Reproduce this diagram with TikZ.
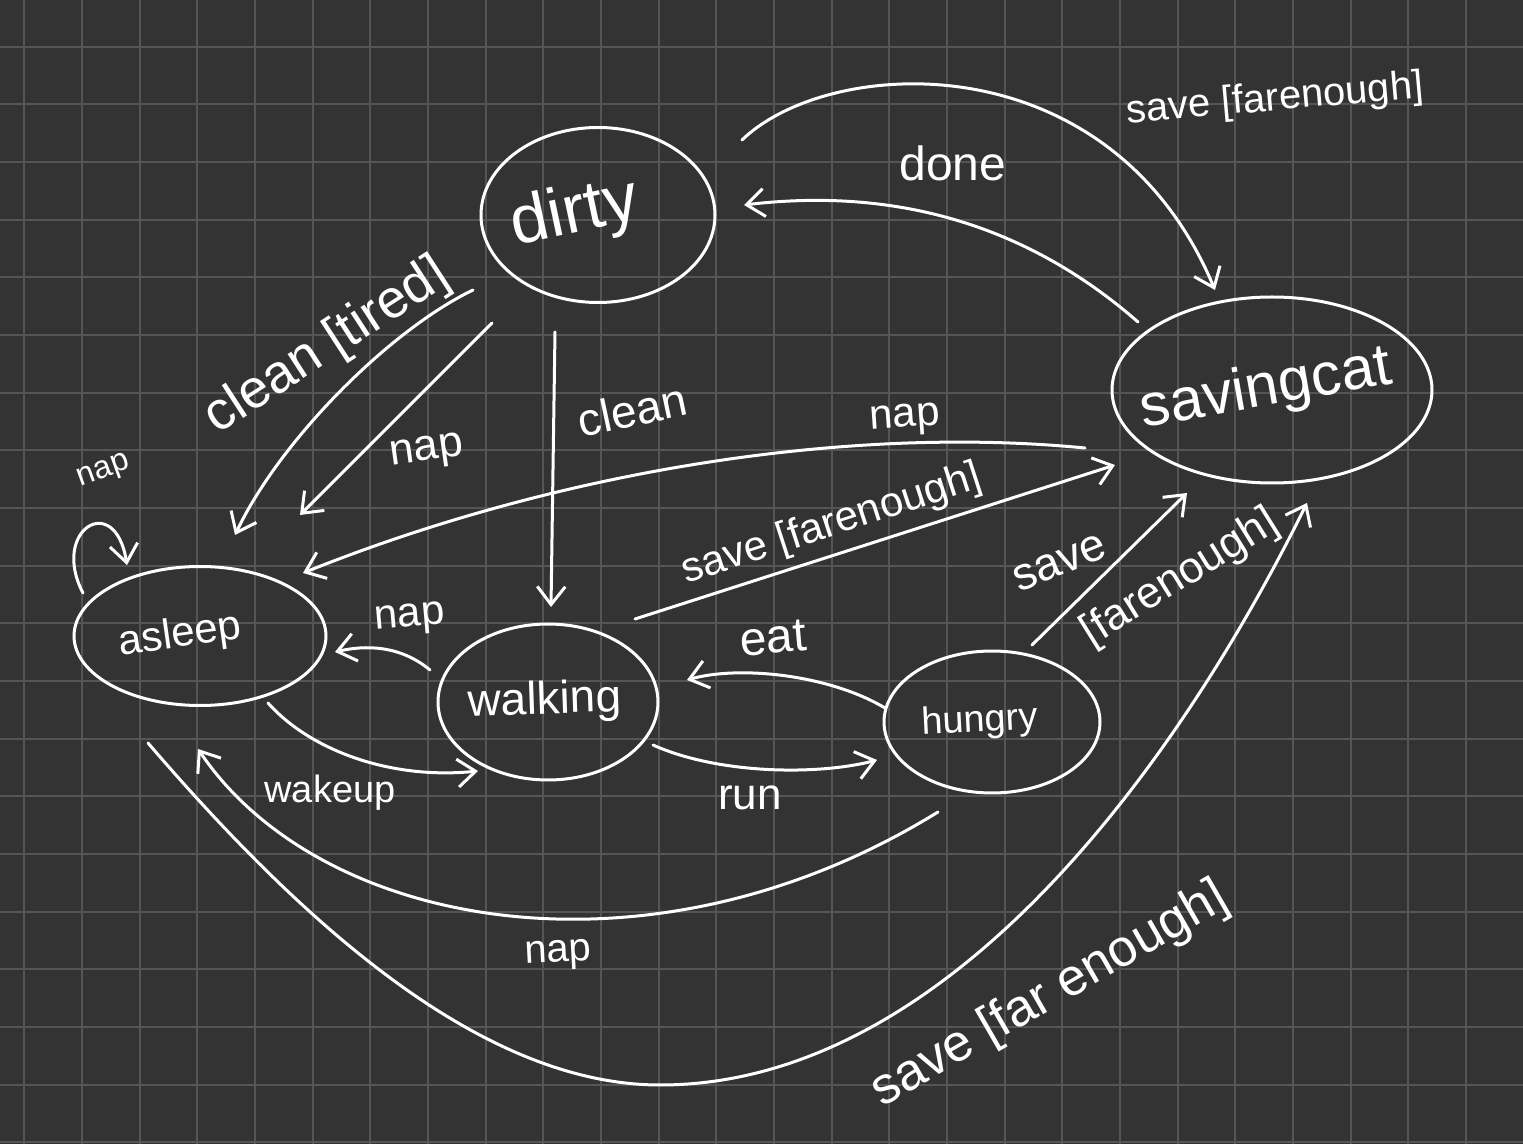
\documentclass[tikz,border=0pt]{standalone}
\usepackage{fontspec}
\setmainfont{Liberation Sans}
\usetikzlibrary{shapes.geometric,arrows.meta,calc}
\definecolor{bg}{HTML}{333333}
\definecolor{gridc}{HTML}{555555}
\begin{document}
\begin{tikzpicture}[x=0.5pt,y=-0.5pt,
  state/.style={draw=white, line width=1.5pt, ellipse, inner sep=0pt, outer sep=0pt, text=white},
  edge/.style={draw=white, line width=1.5pt, line cap=round, line join=round,
    -{Straight Barb[length=9pt,width=14pt]}},
  lbl/.style={text=white, inner sep=0pt, font=\fontsize{#1}{#1}\selectfont},
  gridline/.style={draw=gridc, line width=1pt}
]
\useasboundingbox (0,0) rectangle (1523,1144);
\fill[bg] (0,0) rectangle (1523,1144);
\foreach \i in {0,...,26} {\draw[gridline] ({24.3+57.67*\i},0) -- ({24.3+57.67*\i},1144);}
\foreach \j in {0,...,19} {\draw[gridline] (0,{46.7+57.67*\j}) -- (1523,{46.7+57.67*\j});}

% states
\node[state, minimum width=117pt, minimum height=87.5pt] (dirty) at (598,215)
  {\makebox[0pt]{\hspace*{-23pt}\rotatebox{12}{\fontsize{34}{34}\selectfont dirty}}};
\node[state, minimum width=160pt, minimum height=93pt] (savingcat) at (1272,390)
  {\makebox[0pt]{\hspace*{-6pt}\rotatebox{10}{\fontsize{30}{30}\selectfont savingcat}}};
\node[state, minimum width=126pt, minimum height=69.5pt] (asleep) at (200,636)
  {\makebox[0pt]{\hspace*{-20pt}\rotatebox{8}{\fontsize{21}{21}\selectfont asleep}}};
\node[state, minimum width=110pt, minimum height=78pt] (walking) at (548,702)
  {\makebox[0pt]{\hspace*{-3pt}\rotatebox{2}{\fontsize{23}{23}\selectfont walking}}};
\node[state, minimum width=108pt, minimum height=71pt] (hungry) at (992,722)
  {\makebox[0pt]{\hspace*{-12pt}\rotatebox{3}{\fontsize{19}{19}\selectfont hungry}}};

% transitions
\draw[edge] ($(savingcat)+(-134,-68)$) .. controls (1010,210) and (870,190) .. ($(dirty)+(146,-10)$);
\draw[edge] ($(dirty)+(144,-75)$) .. controls (830,55) and (1110,40) .. ($(savingcat)+(-57,-100)$);
\draw[edge] ($(dirty)+(-125,75)$) .. controls (390,330) and (280,440) .. ($(asleep)+(35,-101)$);
\draw[edge] ($(dirty)+(-106,108)$) -- ($(asleep)+(100,-121)$);
\draw[edge] ($(dirty)+(-43,117)$) -- ($(walking)+(3,-95)$);
\draw[edge] ($(savingcat)+(-187,58)$) .. controls (850,425) and (560,470) .. ($(asleep)+(103,-63)$);
\draw[edge] ($(walking)+(87,-83)$) -- ($(savingcat)+(-157,75)$);
\draw[edge] ($(walking)+(-118,-32)$) .. controls (400,645) and (365,645) .. ($(asleep)+(135,16)$);
\draw[edge] ($(asleep)+(68,67)$) .. controls (310,750) and (390,780) .. ($(walking)+(-70,69)$);
\draw[edge] ($(walking)+(105,43)$) .. controls (720,775) and (820,775) .. ($(hungry)+(-115,38)$);
\draw[edge] ($(hungry)+(-107,-14)$) .. controls (830,675) and (740,665) .. ($(walking)+(139,-22)$);
\draw[edge] ($(hungry)+(40,-77)$) -- ($(savingcat)+(-85,103)$);
\draw[edge] ($(hungry)+(-54,90)$) .. controls (650,990) and (320,930) .. ($(asleep)+(-2,113)$);
\coordinate (farbottom) at (660,1085);
\draw[edge] ($(asleep)+(-52,107)$) .. controls (300,920) and (480,1085) .. (farbottom)
  .. controls (950,1085) and (1180,760) .. ($(savingcat)+(35,113)$);
\draw[edge] ($(asleep)+(-117,-43)$) .. controls (50,530) and (115,490) .. ($(asleep)+(-73,-71)$);

% labels
\node[lbl=24] (ldone) at (953,163) {done};
\node[lbl=20, rotate=5] (lsavetop) at (1275,100) {save [farenough]};
\node[lbl=27, rotate=33] (lcleantired) at (327,347) {clean [tired]};
\node[lbl=22, rotate=8] (lnapdirty) at (427,453) {nap};
\node[lbl=23, rotate=12] (lclean) at (632,410) {clean};
\node[lbl=21, rotate=4] (lnapsc) at (905,420) {nap};
\node[lbl=21, rotate=18] (lsavemid) at (832,525) {save [farenough]};
\node[lbl=21, rotate=5] (lnapwalk) at (410,620) {nap};
\node[lbl=19] (lwakeup) at (330,793) {wakeup};
\node[lbl=22] (lrun) at (750,798) {run};
\node[lbl=24, rotate=5] (leat) at (773,638) {eat};
\node[lbl=23, rotate=22] (lsavehun) at (1060,563) {save};
\node[lbl=22, rotate=32] (lfarhun) at (1180,578) {[farenough]};
\node[lbl=20, rotate=3] (lnapbottom) at (558,955) {nap};
\node[lbl=26, rotate=30] (lsavefar) at (1050,995) {save [far enough]};
\node[lbl=16, rotate=20] (lnapself) at (104,472) {nap};
\end{tikzpicture}
\end{document}
